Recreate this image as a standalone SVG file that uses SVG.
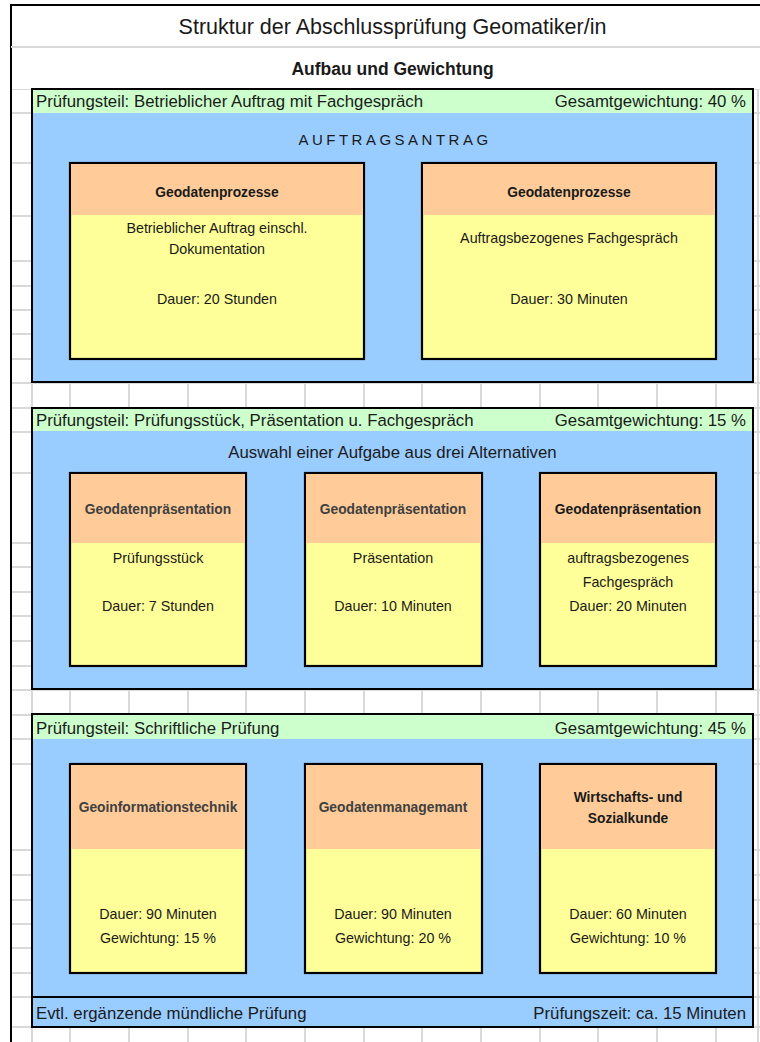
<svg xmlns="http://www.w3.org/2000/svg" width="760" height="1042" viewBox="0 0 760 1042">
<style>
text{font-family:"Liberation Sans",Arial,sans-serif;fill:#1a1a1a}
.grid{stroke:#d9d9d9;stroke-width:2;fill:none}
.frame{stroke:#000;stroke-width:2}
.sec{fill:#99ccff;stroke:#000;stroke-width:2}
.band{fill:#ccffcc}
.box{fill:#ffff99;stroke:#000;stroke-width:2.2}
.head{fill:#ffcc99}
.t{font-size:16.8px}
.b{font-size:14.3px;text-anchor:middle}
.h{font-size:13.8px;font-weight:bold;text-anchor:middle}
.g{fill:#404040}
.r{text-anchor:end}
</style>
<rect x="0" y="0" width="760" height="1042" fill="#fff"/>
<g id="grid" class="grid">
<path d="M11 47H760M11 89H760M11 113H760M11 163H760M11 216H760M11 261H760M11 286H760M11 310H760M11 334H760M11 359H760M11 383H760M11 408H760M11 432H760M11 473H760M11 543H760M11 567H760M11 592H760M11 616H760M11 641H760M11 666H760M11 690H760M11 715H760M11 739H760M11 764H760M11 850H760M11 875H760M11 900H760M11 924H760M11 948H760M11 973H760M11 997H760M11 1027H760"/>
<path d="M32 89V1042M70 89V1042M129 89V1042M188 89V1042M246 89V1042M305 89V1042M364 89V1042M422 89V1042M481 89V1042M540 89V1042M598 89V1042M657 89V1042M716 89V1042M758 89V1042"/>
</g>
<g id="outer" class="frame">
<rect x="11" y="6" width="749" height="83" fill="#fff" stroke="none"/>
<path d="M11 5H760M11 4V1042" fill="none"/>
<path d="M11 47H760" class="grid"/>
</g>
<g id="title">
<text x="392.5" y="34" font-size="21.5" text-anchor="middle">Struktur der Abschlussprüfung Geomatiker/in</text>
<text x="392.5" y="75" font-size="17.5" font-weight="bold" text-anchor="middle">Aufbau und Gewichtung</text>
</g>
<g id="section1">
<rect class="sec" x="32" y="89" width="721" height="293"/>
<rect class="band" x="33" y="90" width="719" height="23"/>
<text class="t" x="36" y="107">Prüfungsteil: Betrieblicher Auftrag mit Fachgespräch</text>
<text class="t r" x="746" y="107">Gesamtgewichtung: 40 %</text>
<text x="395" y="145" font-size="15" letter-spacing="3.5" text-anchor="middle">AUFTRAGSANTRAG</text>
</g>
<g id="s1box1">
<rect class="box" x="70" y="163" width="294" height="196"/>
<rect class="head" x="71" y="164" width="292" height="51"/>
<text class="h" x="217" y="197">Geodatenprozesse</text>
<text class="b" x="217" y="233">Betrieblicher Auftrag einschl.</text>
<text class="b" x="217" y="254">Dokumentation</text>
<text class="b" x="217" y="304">Dauer: 20 Stunden</text>
</g>
<g id="s1box2">
<rect class="box" x="422" y="163" width="294" height="196"/>
<rect class="head" x="423" y="164" width="292" height="51"/>
<text class="h" x="569" y="197">Geodatenprozesse</text>
<text class="b" x="569" y="243">Auftragsbezogenes Fachgespräch</text>
<text class="b" x="569" y="304">Dauer: 30 Minuten</text>
</g>
<g id="section2">
<rect class="sec" x="32" y="408" width="721" height="281"/>
<rect class="band" x="33" y="409" width="719" height="22"/>
<text class="t" x="36" y="426">Prüfungsteil: Prüfungsstück, Präsentation u. Fachgespräch</text>
<text class="t r" x="746" y="426">Gesamtgewichtung: 15 %</text>
<text class="t" x="392.5" y="458" text-anchor="middle">Auswahl einer Aufgabe aus drei Alternativen</text>
</g>
<g id="s2box1">
<rect class="box" x="70" y="473" width="176" height="193"/>
<rect class="head" x="71" y="474" width="174" height="69"/>
<text class="h g" x="158" y="514">Geodatenpräsentation</text>
<text class="b" x="158" y="563">Prüfungsstück</text>
<text class="b" x="158" y="611">Dauer: 7 Stunden</text>
</g>
<g id="s2box2">
<rect class="box" x="305" y="473" width="177" height="193"/>
<rect class="head" x="306" y="474" width="175" height="69"/>
<text class="h g" x="393" y="514">Geodatenpräsentation</text>
<text class="b" x="393" y="563">Präsentation</text>
<text class="b" x="393" y="611">Dauer: 10 Minuten</text>
</g>
<g id="s2box3">
<rect class="box" x="540" y="473" width="176" height="193"/>
<rect class="head" x="541" y="474" width="174" height="69"/>
<text class="h" x="628" y="514">Geodatenpräsentation</text>
<text class="b" x="628" y="563">auftragsbezogenes</text>
<text class="b" x="628" y="587">Fachgespräch</text>
<text class="b" x="628" y="611">Dauer: 20 Minuten</text>
</g>
<g id="section3">
<rect class="sec" x="32" y="714" width="721" height="313"/>
<rect class="band" x="33" y="715" width="719" height="24"/>
<text class="t" x="36" y="734">Prüfungsteil: Schriftliche Prüfung</text>
<text class="t r" x="746" y="734">Gesamtgewichtung: 45 %</text>
<path class="frame" d="M32 997H753"/>
<text class="t" x="36" y="1019">Evtl. ergänzende mündliche Prüfung</text>
<text class="t r" x="746" y="1019">Prüfungszeit: ca. 15 Minuten</text>
</g>
<g id="s3box1">
<rect class="box" x="70" y="764" width="176" height="209"/>
<rect class="head" x="71" y="765" width="174" height="84"/>
<text class="h g" x="158" y="812">Geoinformationstechnik</text>
<text class="b" x="158" y="919">Dauer: 90 Minuten</text>
<text class="b" x="158" y="943">Gewichtung: 15 %</text>
</g>
<g id="s3box2">
<rect class="box" x="305" y="764" width="177" height="209"/>
<rect class="head" x="306" y="765" width="175" height="84"/>
<text class="h g" x="393" y="812">Geodatenmanagemant</text>
<text class="b" x="393" y="919">Dauer: 90 Minuten</text>
<text class="b" x="393" y="943">Gewichtung: 20 %</text>
</g>
<g id="s3box3">
<rect class="box" x="540" y="764" width="176" height="209"/>
<rect class="head" x="541" y="765" width="174" height="84"/>
<text class="h" x="628" y="802">Wirtschafts- und</text>
<text class="h" x="628" y="823">Sozialkunde</text>
<text class="b" x="628" y="919">Dauer: 60 Minuten</text>
<text class="b" x="628" y="943">Gewichtung: 10 %</text>
</g>
<g id="connectors"></g>
</svg>
